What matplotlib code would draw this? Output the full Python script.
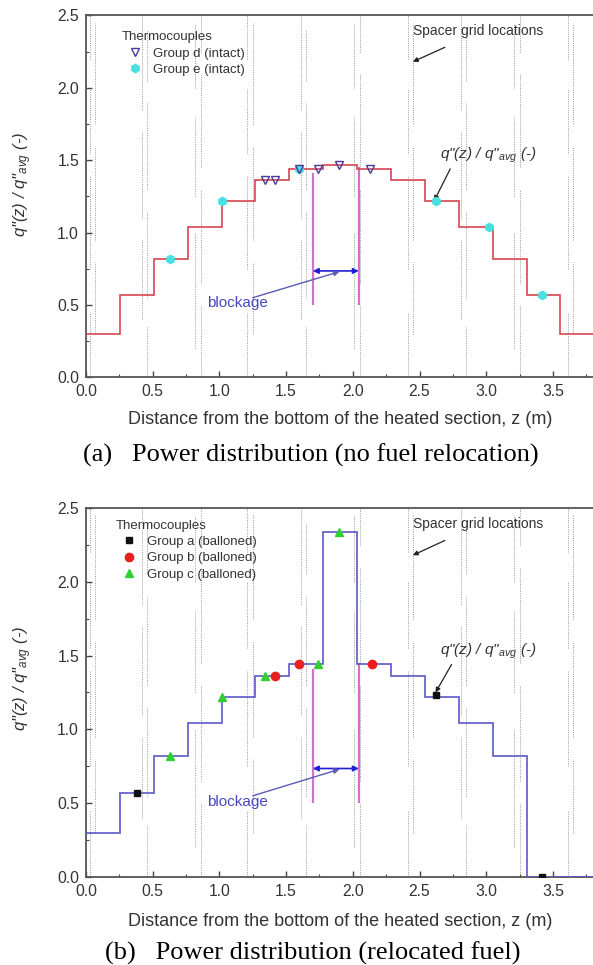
import numpy as np
import matplotlib
matplotlib.use("Agg")
import matplotlib.pyplot as plt
from matplotlib.ticker import MultipleLocator

plt.rcParams['font.family'] = ['Liberation Sans', 'DejaVu Sans']
plt.rcParams['mathtext.fontset'] = 'custom'
plt.rcParams['mathtext.it'] = 'Liberation Sans:italic'
plt.rcParams['mathtext.rm'] = 'Liberation Sans'

# axial power steps, 15 nodes of 0.254 m
edges = [0.0, 0.254, 0.508, 0.762, 1.016, 1.270, 1.524, 1.778, 2.032,
         2.286, 2.540, 2.794, 3.048, 3.302, 3.556, 3.810]
power_intact = [0.30, 0.57, 0.82, 1.04, 1.22, 1.36, 1.44, 1.47,
                1.44, 1.36, 1.22, 1.04, 0.82, 0.57, 0.30]
power_reloc = [0.30, 0.57, 0.82, 1.04, 1.22, 1.36, 1.44, 2.34,
               1.44, 1.36, 1.22, 1.04, 0.82, 0.0, 0.0]

# thermocouples, (a)
tc_d_z = [1.34, 1.42, 1.60, 1.74, 1.90, 2.13]
tc_d_q = [1.36, 1.36, 1.44, 1.44, 1.47, 1.44]
tc_e_z = [0.63, 1.02, 1.60, 2.62, 3.02, 3.42]
tc_e_q = [0.82, 1.22, 1.44, 1.22, 1.04, 0.57]

# thermocouples, (b)
tc_a_z = [0.38, 2.62, 3.42]
tc_a_q = [0.57, 1.23, 0.0]
tc_b_z = [1.42, 1.60, 2.14]
tc_b_q = [1.36, 1.44, 1.44]
tc_c_z = [0.63, 1.02, 1.34, 1.74, 1.90]
tc_c_q = [0.82, 1.22, 1.36, 1.44, 2.34]

# blockage zone
block_z = [1.70, 2.045]

# spacer grid marks (pairs of dotted lines)
spacer_z = [0.03, 0.42, 0.82, 1.21, 1.61, 2.01, 2.41, 2.81, 3.21, 3.61]
spacer_spans = [
    ([(2.2, 2.5), (1.55, 2.0), (0.75, 1.4), (0.0, 0.45)],
     [(1.75, 2.45), (0.95, 1.6), (0.3, 0.8)]),
    ([(1.85, 2.5), (1.1, 1.7), (0.4, 0.95)],
     [(2.05, 2.4), (1.3, 1.9), (0.55, 1.15), (0.0, 0.35)]),
    ([(2.0, 2.45), (1.25, 1.8), (0.2, 1.0)],
     [(2.25, 2.5), (1.45, 2.1), (0.65, 1.3), (0.0, 0.5)]),
]

RED = '#d64550'
BLUE = '#5a5ac8'
MAGENTA = '#d070d0'


def spacers(ax):
    for i, z in enumerate(spacer_z):
        left, right = spacer_spans[i % 3]
        for dz, spans in ((0.0, left), (0.04, right)):
            for y0, y1 in spans:
                ax.vlines(z + dz, y0, y1, colors='#9a9a9a', lw=0.7,
                          linestyles=(0, (1, 1.3)), zorder=0)


def base(ax):
    ax.set_xlim(0, 3.80)
    ax.set_ylim(0, 2.5)
    ax.xaxis.set_major_locator(MultipleLocator(0.5))
    ax.xaxis.set_minor_locator(MultipleLocator(0.25))
    ax.yaxis.set_major_locator(MultipleLocator(0.5))
    ax.yaxis.set_minor_locator(MultipleLocator(0.25))
    ax.tick_params(which='both', direction='in', colors='#444', labelsize=11.3,
                   labelcolor='#333', top=False, right=False)
    ax.tick_params(which='major', length=4.5, width=1.0, pad=5)
    ax.tick_params(which='minor', length=2.5, width=0.8)
    ax.xaxis.set_major_formatter(lambda v, p: f'{v:.1f}')
    ax.yaxis.set_major_formatter(lambda v, p: f'{v:.1f}')
    for s in ('left', 'bottom', 'top'):
        ax.spines[s].set_color('#555')
        ax.spines[s].set_linewidth(1.3)
    ax.spines['right'].set_visible(False)
    spacers(ax)

    # blockage
    ax.vlines(block_z[0], 0.50, 1.41, colors=MAGENTA, lw=1.6, zorder=2)
    ax.vlines(block_z[1], 0.50, 1.45, colors=MAGENTA, lw=1.6, zorder=2)
    ax.annotate('', xy=(block_z[0], 0.735), xytext=(block_z[1], 0.735),
                arrowprops=dict(arrowstyle='<|-|>', color='#2020d0', lw=1.2,
                                mutation_scale=8, shrinkA=0, shrinkB=0))
    ax.text(0.91, 0.51, 'blockage', color='#4848c0', fontsize=11,
            ha='left', va='center')
    ax.annotate('', xy=(1.90, 0.73), xytext=(1.25, 0.55),
                arrowprops=dict(arrowstyle='-|>', color='#5a5ab8', lw=1.0,
                                mutation_scale=8, shrinkA=0, shrinkB=0))

    # spacer label
    ax.text(2.45, 2.39, 'Spacer grid locations', fontsize=10, color='#333',
            ha='left', va='center')
    ax.annotate('', xy=(2.45, 2.18), xytext=(2.69, 2.28),
                arrowprops=dict(arrowstyle='-|>', color='#222', lw=0.9,
                                mutation_scale=7, shrinkA=0, shrinkB=0))
    ax.text(2.65, 1.53, r'q"(z) / q"$_{avg}$ (-)', fontsize=11, color='#333',
            style='italic', ha='left', va='center')


def tc_legend(ax, x, y, spacing):
    leg = ax.legend(title='Thermocouples', loc='upper left',
                    bbox_to_anchor=(x, y), frameon=False, fontsize=9.5,
                    title_fontsize=9.5, handletextpad=0.4, labelspacing=spacing,
                    alignment='left', borderaxespad=0.2, handlelength=2.0)
    for t in leg.get_texts():
        t.set_color('#333')
    leg.get_title().set_color('#333')


fig = plt.figure(figsize=(5.93, 9.65), dpi=100)
ax1 = fig.add_axes([0.145, 0.609, 0.855, 0.375])
ax2 = fig.add_axes([0.145, 0.0912, 0.855, 0.3824])

# (a) intact
base(ax1)
ax1.stairs(power_intact, edges, baseline=None, color=RED, lw=1.2, zorder=3)
ax1.plot(tc_d_z, tc_d_q, 'v', mfc='none', mec='#4a3a9a', ms=6, mew=1.0,
         ls='none', label='Group d (intact)', zorder=5)
ax1.plot(tc_e_z, tc_e_q, 'h', color='#48e0e0', ms=6, ls='none',
         label='Group e (intact)', zorder=4)
ax1.annotate('', xy=(2.61, 1.22), xytext=(2.73, 1.44),
             arrowprops=dict(arrowstyle='-|>', color='#222', lw=0.9,
                             mutation_scale=7, shrinkA=0, shrinkB=0))
tc_legend(ax1, 0.055, 0.978, 0.3)

# (b) relocated
base(ax2)
ax2.stairs(power_reloc, edges, baseline=None, color=BLUE, lw=1.2, zorder=3)
ax2.plot(tc_a_z, tc_a_q, 's', color='#111', ms=5, ls='none',
         label='Group a (balloned)', zorder=5)
ax2.plot(tc_b_z, tc_b_q, 'o', color='#e82020', ms=6, ls='none',
         label='Group b (balloned)', zorder=5)
ax2.plot(tc_c_z, tc_c_q, '^', color='#30d030', ms=6, ls='none',
         label='Group c (balloned)', zorder=5)
ax2.annotate('', xy=(2.62, 1.25), xytext=(2.74, 1.44),
             arrowprops=dict(arrowstyle='-|>', color='#222', lw=0.9,
                             mutation_scale=7, shrinkA=0, shrinkB=0))
tc_legend(ax2, 0.043, 0.99, 0.32)

ylab = r'q"(z) / q"$_{avg}$ (-)'
xlab = 'Distance from the bottom of the heated section, z (m)'
fig.text(0.039, 0.809, ylab, rotation=90, style='italic', fontsize=12,
         color='#333', ha='center', va='center')
fig.text(0.039, 0.297, ylab, rotation=90, style='italic', fontsize=12,
         color='#333', ha='center', va='center')
fig.text(0.573, 0.5648, xlab, fontsize=13, color='#333', ha='center', va='center')
fig.text(0.573, 0.0446, xlab, fontsize=13, color='#333', ha='center', va='center')
fig.text(0.524, 0.5285, '(a)   Power distribution (no fuel relocation)',
         family='Liberation Serif', fontsize=19, ha='center', va='center')
fig.text(0.527, 0.0124, '(b)   Power distribution (relocated fuel)',
         family='Liberation Serif', fontsize=19, ha='center', va='center')

fig.savefig('out.png', dpi=100)
